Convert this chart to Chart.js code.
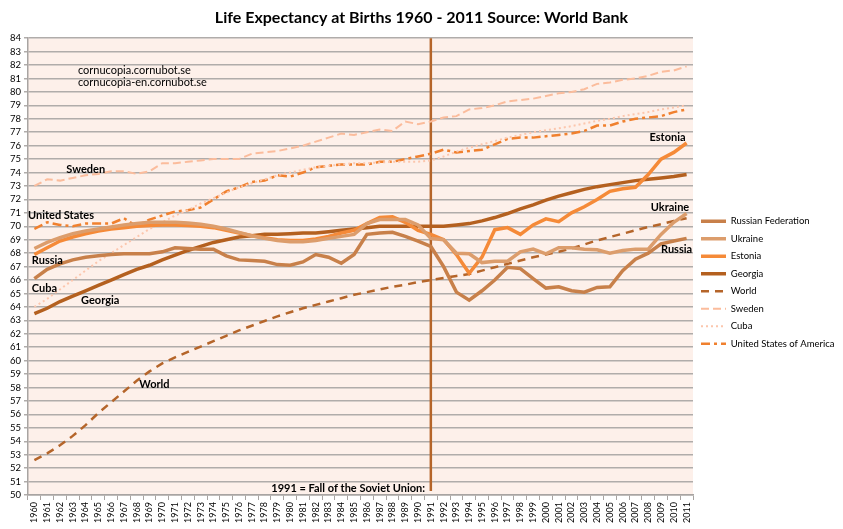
<!DOCTYPE html>
<html>
<head>
<meta charset="utf-8">
<script src="https://cdn.jsdelivr.net/npm/chart.js@4.4.1/dist/chart.umd.min.js"></script>
<style>
  html, body { margin: 0; padding: 0; background: #fff; }
  #wrap { width: 843px; height: 529px; }
</style>
</head>
<body>
<div id="wrap"><canvas id="chart"></canvas></div>
<script>
const years = []
for (let y = 1960; y <= 2011; y++) years.push(String(y))

const russia = [66.1, 66.8, 67.2, 67.5, 67.7, 67.8, 67.9, 67.95, 67.95, 67.95,
  68.1, 68.4, 68.35, 68.3, 68.3, 67.8, 67.5, 67.45, 67.4, 67.15,
  67.1, 67.35, 67.9, 67.7, 67.25, 67.9, 69.4, 69.5, 69.55, 69.25,
  68.9, 68.5, 67.0, 65.1, 64.5, 65.2, 66.0, 66.95, 66.85, 66.1,
  65.4, 65.5, 65.2, 65.1, 65.45, 65.5, 66.7, 67.55, 68.0, 68.7,
  68.9, 69.1]
const ukraine = [68.35, 68.8, 69.15, 69.45, 69.65, 69.8, 69.95, 70.1, 70.2, 70.3,
  70.3, 70.3, 70.25, 70.15, 70.0, 69.8, 69.55, 69.3, 69.1, 68.95,
  68.85, 68.85, 68.95, 69.1, 69.25, 69.4, 70.2, 70.5, 70.5, 70.5,
  70.1, 69.1, 69.0, 68.0, 67.95, 67.3, 67.4, 67.4, 68.1, 68.3,
  67.95, 68.4, 68.4, 68.3, 68.25, 68.0, 68.2, 68.3, 68.3, 69.4,
  70.3, 70.95]
const estonia = [67.9, 68.4, 68.9, 69.2, 69.45, 69.65, 69.8, 69.9, 70.0, 70.05,
  70.1, 70.1, 70.05, 70.0, 69.9, 69.7, 69.5, 69.3, 69.15, 69.0,
  68.95, 68.95, 69.05, 69.25, 69.5, 69.7, 70.2, 70.65, 70.7, 70.3,
  69.7, 69.4, 69.0, 67.9, 66.5, 67.7, 69.75, 69.9, 69.4, 70.1,
  70.55, 70.35, 71.0, 71.45, 72.0, 72.6, 72.8, 72.9, 73.85, 75.0,
  75.5, 76.2]
const georgia = [63.5, 63.9, 64.4, 64.8, 65.2, 65.6, 66.0, 66.4, 66.8, 67.1,
  67.5, 67.85, 68.2, 68.5, 68.8, 69.0, 69.2, 69.3, 69.4, 69.4,
  69.45, 69.5, 69.5, 69.6, 69.7, 69.8, 69.9, 70.0, 70.0, 70.0,
  70.0, 70.0, 70.0, 70.1, 70.2, 70.4, 70.65, 70.95, 71.3, 71.6,
  71.95, 72.25, 72.5, 72.75, 72.95, 73.1, 73.25, 73.4, 73.5, 73.6,
  73.7, 73.85]
const world = [52.6, 53.1, 53.7, 54.4, 55.2, 56.1, 56.9, 57.7, 58.5, 59.2,
  59.8, 60.25, 60.65, 61.05, 61.45, 61.85, 62.25, 62.6, 62.95, 63.3,
  63.6, 63.9, 64.15, 64.4, 64.65, 64.9, 65.1, 65.3, 65.5, 65.65,
  65.85, 66.0, 66.15, 66.3, 66.45, 66.7, 66.95, 67.2, 67.45, 67.7,
  67.9, 68.1, 68.35, 68.65, 68.95, 69.2, 69.45, 69.7, 69.95, 70.15,
  70.4, 70.6]
const sweden = [73.0, 73.5, 73.4, 73.6, 73.8, 73.9, 74.1, 74.1, 73.9, 74.1,
  74.7, 74.7, 74.8, 74.9, 75.0, 75.0, 75.0, 75.4, 75.5, 75.6,
  75.8, 76.0, 76.3, 76.6, 76.9, 76.8, 77.0, 77.2, 77.1, 77.8,
  77.6, 77.8, 78.1, 78.2, 78.7, 78.8, 79.0, 79.3, 79.4, 79.5,
  79.7, 79.9, 80.0, 80.2, 80.6, 80.7, 80.9, 81.0, 81.2, 81.5,
  81.6, 81.9]
const cuba = [64.0, 64.6, 65.3, 66.0, 66.7, 67.4, 68.0, 68.6, 69.2, 69.8,
  70.3, 70.8, 71.2, 71.7, 72.1, 72.5, 72.9, 73.2, 73.5, 73.8,
  74.0, 74.2, 74.4, 74.5, 74.6, 74.7, 74.7, 74.75, 74.8, 74.8,
  74.8, 74.9, 75.2, 75.55, 75.85, 76.1, 76.35, 76.6, 76.8, 77.0,
  77.15, 77.3, 77.45, 77.65, 77.85, 78.0, 78.2, 78.35, 78.5, 78.7,
  78.85, 79.0]
const usa = [69.8, 70.3, 70.1, 70.0, 70.2, 70.2, 70.2, 70.6, 70.0, 70.5,
  70.8, 71.1, 71.2, 71.4, 72.0, 72.6, 72.9, 73.3, 73.4, 73.8,
  73.7, 74.0, 74.4, 74.5, 74.6, 74.6, 74.6, 74.8, 74.8, 75.0,
  75.2, 75.4, 75.7, 75.5, 75.6, 75.7, 76.1, 76.5, 76.6, 76.6,
  76.7, 76.8, 76.9, 77.1, 77.5, 77.5, 77.8, 78.0, 78.1, 78.2,
  78.5, 78.7]

// annotation text: [text, year index, value, bold, align]
const notes = [
  ['cornucopia.cornubot.se', 3.4, 81.6, false, 'left'],
  ['cornucopia-en.cornubot.se', 3.4, 80.7, false, 'left'],
  ['Sweden', 2.5, 74.2, true, 'left'],
  ['United States', -0.5, 70.8, true, 'left'],
  ['Russia', -0.2, 67.45, true, 'left'],
  ['Cuba', -0.2, 65.35, true, 'left'],
  ['Georgia', 3.65, 64.5, true, 'left'],
  ['World', 8.2, 58.2, true, 'left'],
  ['Estonia', 48.1, 76.6, true, 'left'],
  ['Ukraine', 48.2, 71.4, true, 'left'],
  ['Russia', 49.0, 68.25, true, 'left'],
  ['1991 = Fall of the Soviet Union:', 30.55, 50.5, true, 'right']
]
const markerYear = '1991'

const FONT = 'Lato, "Open Sans", sans-serif'

const plotBackground = {
  id: 'plotBackground',
  beforeDraw(chart) {
    const { ctx, chartArea: a } = chart
    ctx.save()
    ctx.fillStyle = '#fdf0ea'
    ctx.fillRect(a.left, a.top, a.right - a.left, a.bottom - a.top)
    ctx.restore()
  }
}

const annotations = {
  id: 'annotations',
  beforeDatasetsDraw(chart) {
    const { ctx, chartArea: a, scales } = chart
    const x = scales.x.getPixelForValue(years.indexOf(markerYear))
    ctx.save()
    ctx.strokeStyle = '#b5652a'
    ctx.lineWidth = 2.5
    ctx.beginPath()
    ctx.moveTo(x, a.top)
    ctx.lineTo(x, a.bottom - 4)
    ctx.stroke()
    ctx.restore()
  },
  afterDatasetsDraw(chart) {
    const { ctx, scales } = chart
    const step = scales.x.getPixelForValue(1) - scales.x.getPixelForValue(0)
    const x0 = scales.x.getPixelForValue(0)
    ctx.save()
    ctx.fillStyle = '#000'
    ctx.textBaseline = 'middle'
    notes.forEach(([text, xi, v, bold, align]) => {
      ctx.font = (bold ? 'bold ' : '') + '11px ' + FONT
      ctx.textAlign = align
      ctx.fillText(text, x0 + xi * step, scales.y.getPixelForValue(v))
    })
    ctx.restore()
  }
}

function series(label, data, color, width, dash) {
  return {
    label: label,
    data: data,
    borderColor: color,
    backgroundColor: color,
    borderWidth: width,
    borderDash: dash,
    pointRadius: 0,
    pointHoverRadius: 0,
    tension: 0,
    fill: false
  }
}

new Chart(document.getElementById('chart'), {
  type: 'line',
  data: {
    labels: years,
    datasets: [
      series('Russian Federation', russia, '#c8804a', 3.5, []),
      series('Ukraine', ukraine, '#dc9d6c', 3.5, []),
      series('Estonia', estonia, '#f58a38', 3.5, []),
      series('Georgia', georgia, '#b4601f', 3.5, []),
      series('World', world, '#b5652a', 2.5, [8, 6]),
      series('Sweden', sweden, '#fbbc9c', 2, [8, 4]),
      series('Cuba', cuba, '#fcc6ad', 2, [2, 3]),
      series('United States of America', usa, '#f0802e', 2.5, [9, 4, 3, 4])
    ]
  },
  plugins: [plotBackground, annotations],
  options: {
    responsive: true,
    maintainAspectRatio: false,
    animation: false,
    layout: {
      padding: { left: 0, right: 0, top: 0, bottom: 0 }
    },
    plugins: {
      title: {
        display: true,
        text: 'Life Expectancy at Births 1960 - 2011 Source: World Bank',
        color: '#000',
        font: { family: FONT, size: 16, weight: 'bold' },
        padding: { top: 8, bottom: 11 }
      },
      legend: {
        position: 'right',
        maxWidth: 150,
        title: {
          display: true,
          text: ' ',
          font: { size: 10 },
          padding: { top: 12, bottom: 12 }
        },
        labels: {
          usePointStyle: true,
          pointStyle: 'line',
          pointStyleWidth: 25,
          boxHeight: 10,
          padding: 8,
          color: '#000',
          font: { family: FONT, size: 9.5 },
          generateLabels(chart) {
            const items = Chart.defaults.plugins.legend.labels.generateLabels(chart)
            items.forEach(item => {
              const ds = chart.data.datasets[item.datasetIndex]
              item.lineDash = ds.borderDash
              item.lineWidth = ds.borderWidth
              item.strokeStyle = ds.borderColor
              item.fillStyle = ds.borderColor
            })
            return items
          }
        }
      },
      tooltip: { enabled: false }
    },
    scales: {
      x: {
        offset: true,
        grid: {
          offset: true,
          drawOnChartArea: false,
          drawTicks: true,
          tickLength: 5,
          color: '#a8a4a2'
        },
        border: { color: '#a8a4a2', width: 1.5 },
        ticks: {
          autoSkip: false,
          minRotation: 90,
          maxRotation: 90,
          padding: 2,
          color: '#000',
          font: { family: FONT, size: 9 }
        },
        afterFit: function(scale) { scale.height = 34 }
      },
      y: {
        min: 50,
        max: 84,
        ticks: {
          stepSize: 1,
          autoSkip: false,
          padding: 3,
          color: '#000',
          font: { family: FONT, size: 9.5 }
        },
        grid: {
          color: '#b0acaa',
          lineWidth: 1.5,
          tickLength: 4
        },
        border: { color: '#a8a4a2', width: 1.5 },
        afterFit: function(scale) { scale.width = 28 }
      }
    }
  }
})
</script>
</body>
</html>
